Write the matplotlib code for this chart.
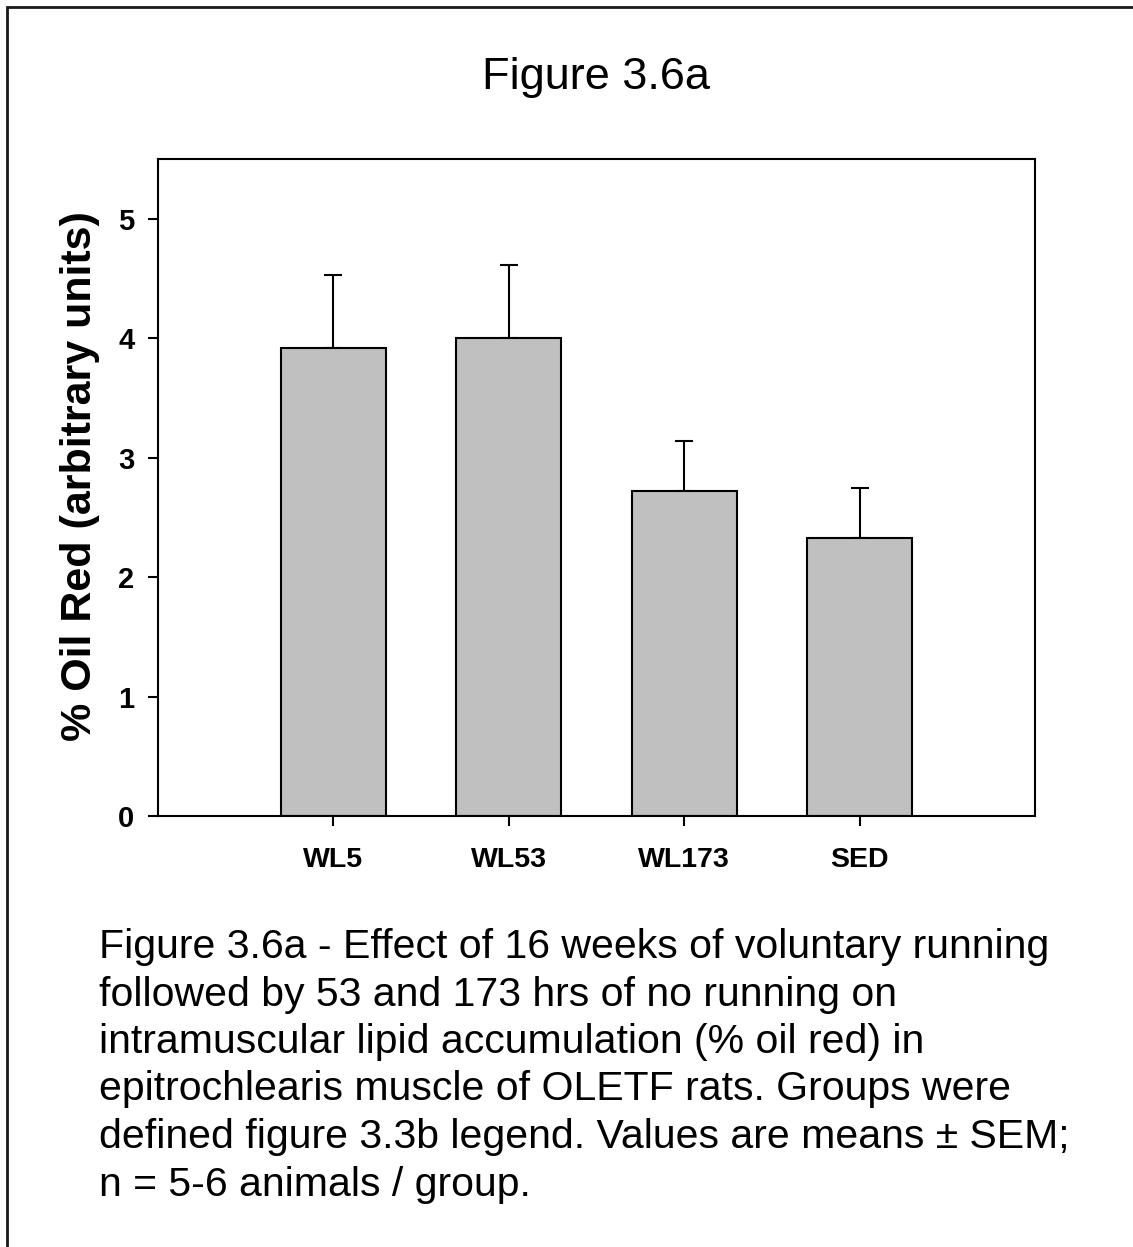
import matplotlib
matplotlib.use("Agg")
import matplotlib.pyplot as plt
from matplotlib.patches import Rectangle

plt.rcParams['font.family'] = ['Liberation Sans', 'DejaVu Sans']

# Oil red staining per group, mean and SEM
groups = ['WL5', 'WL53', 'WL173', 'SED']
oil_red = [3.92, 4.00, 2.72, 2.33]
sem = [0.61, 0.61, 0.42, 0.42]
yticks = [0, 1, 2, 3, 4, 5]

caption = [
    'Figure 3.6a - Effect of 16 weeks of voluntary running',
    'followed by 53 and 173 hrs of no running on',
    'intramuscular lipid accumulation (% oil red) in',
    'epitrochlearis muscle of OLETF rats. Groups were',
    'defined figure 3.3b legend. Values are means \u00b1 SEM;',
    'n = 5-6 animals / group.',
]

W, H = 1133, 1247
fig = plt.figure(figsize=(W / 100, H / 100), dpi=100)

# outer frame (runs off right and bottom edges)
fig.patches.append(Rectangle((7 / W, -0.1), 1.2, 1 - 7 / H + 0.1,
                             transform=fig.transFigure, fill=False,
                             edgecolor='#1a1a1a', linewidth=2.0))

ax = fig.add_axes([158 / W, 1 - 816 / H, 877 / W, 657 / H])

x = list(range(len(groups)))
ax.bar(x, oil_red, width=0.6, color='#c0c0c0', edgecolor='black', linewidth=1.5, zorder=2)
ax.errorbar(x, oil_red, yerr=[[0] * len(sem), sem], fmt='none', ecolor='black',
            elinewidth=1.5, capsize=6.5, capthick=1.5, zorder=1)

ax.set_xlim(-1, 4)
ax.set_ylim(0, 5.5)
ax.set_xticks(x)
ax.set_xticklabels(groups, fontsize=20.5, fontweight='bold')
ax.set_yticks(yticks)
ax.set_yticklabels([str(t) for t in yticks], fontsize=21, fontweight='bold')
ax.tick_params(axis='both', direction='out', length=7, width=1.5, color='black')
ax.tick_params(axis='y', pad=10)
ax.tick_params(axis='x', pad=15.5)
for s in ax.spines.values():
    s.set_linewidth(1.5)

ax.set_ylabel('% Oil Red (arbitrary units)', fontsize=31, fontweight='bold')
ax.yaxis.set_label_coords((100 - 158) / 877, (816 - 476) / 657)

fig.text(596.5 / W, 1 - 89 / H, 'Figure 3.6a', fontsize=32.5,
         ha='center', va='baseline')

for i, line in enumerate(caption):
    fig.text(99 / W, 1 - (958 + i * 47.5) / H, line, fontsize=29.5,
             ha='left', va='baseline')

fig.savefig('out.png', dpi=100, facecolor='white')
